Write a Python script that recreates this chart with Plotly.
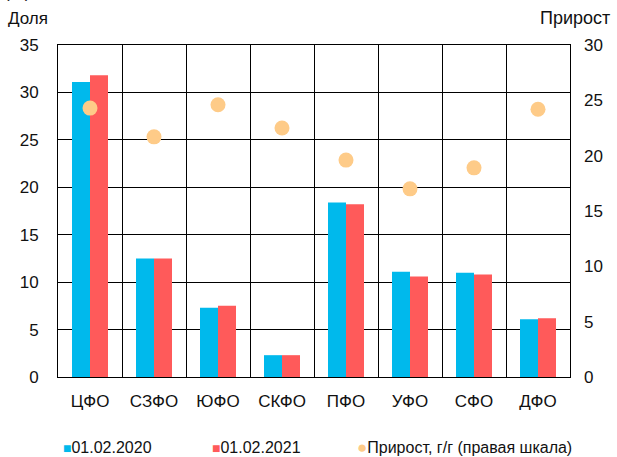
import plotly.graph_objects as go

# Federal districts
districts = ["ЦФО", "СЗФО", "ЮФО", "СКФО", "ПФО", "УФО", "СФО", "ДФО"]
# Share, % (left axis)
share_2020 = [31.1, 12.5, 7.3, 2.3, 18.4, 11.1, 11.0, 6.1]
share_2021 = [31.8, 12.5, 7.5, 2.3, 18.2, 10.6, 10.8, 6.2]
# Year-on-year growth, % (right axis)
growth_yoy = [24.3, 21.7, 24.6, 22.5, 19.6, 17.0, 18.9, 24.2]

left_ticks = [0, 5, 10, 15, 20, 25, 30, 35]
right_ticks = [0, 5, 10, 15, 20, 25, 30]

BLUE = "#00B9EC"
RED = "#FF5A5A"
PEACH = "#FECB88"
FONT = "Liberation Sans, Arial, sans-serif"

fig = go.Figure()
fig.add_trace(go.Bar(x=districts, y=share_2020, name="01.02.2020",
                     marker=dict(color=BLUE, line=dict(width=0))))
fig.add_trace(go.Bar(x=districts, y=share_2021, name="01.02.2021",
                     marker=dict(color=RED, line=dict(width=0))))
fig.add_trace(go.Scatter(x=districts, y=growth_yoy, yaxis="y2", mode="markers",
                         name="Прирост, г/г (правая шкала)",
                         marker=dict(color=PEACH, size=15, line=dict(width=0))))

fig.update_layout(
    width=617, height=457,
    margin=dict(l=58, r=47, t=45, b=80),
    paper_bgcolor="white", plot_bgcolor="white",
    barmode="group", bargap=0.4375, bargroupgap=0,
    showlegend=False,
    font=dict(family=FONT, size=17, color="#111111"),
    xaxis=dict(
        type="category", tickson="boundaries",
        showgrid=True, gridcolor="black", gridwidth=1,
        showline=True, linecolor="black", linewidth=1, mirror=True,
        ticks="", ticklabelstandoff=9, tickfont=dict(size=17),
        range=[-0.5, 7.5],
    ),
    yaxis=dict(
        range=[0, 35], tickvals=left_ticks,
        showgrid=True, gridcolor="black", gridwidth=1,
        showline=True, linecolor="black", linewidth=1, mirror=True,
        zeroline=False, ticks="", ticklabelstandoff=15,
    ),
    yaxis2=dict(
        range=[0, 30], tickvals=right_ticks, overlaying="y", side="right",
        showgrid=False, zeroline=False, showline=False,
        ticks="", ticklabelstandoff=13,
    ),
)

annotations = [
    # unit label sitting above the chart, mostly outside the page
    dict(text="(%)", xref="paper", yref="paper", x=-0.11, y=1.123,
         xanchor="left", yanchor="bottom", showarrow=False),
    dict(text="Доля", xref="paper", yref="paper", x=-0.0586, y=1.081,
         xanchor="center", yanchor="middle", showarrow=False),
    dict(text="Прирост", xref="paper", yref="paper", x=1.0098, y=1.081,
         xanchor="center", yanchor="middle", showarrow=False,
         font=dict(size=18)),
]

# Legend row
legend_items = [
    ("■", BLUE, "01.02.2020", 0.006, 14),
    ("■", RED, "01.02.2021", 0.297, 14),
    ("●", PEACH, "Прирост, г/г (правая шкала)", 0.58, 17),
]
for glyph, color, label, xpos, gsize in legend_items:
    annotations.append(dict(
        text=f"<span style='color:{color};font-size:{gsize}px'>{glyph}</span>{label}",
        xref="paper", yref="paper", x=xpos, y=-0.211,
        xanchor="left", yanchor="middle", showarrow=False,
        font=dict(size=16),
    ))

fig.update_layout(annotations=annotations)
fig.write_html("out.html")
